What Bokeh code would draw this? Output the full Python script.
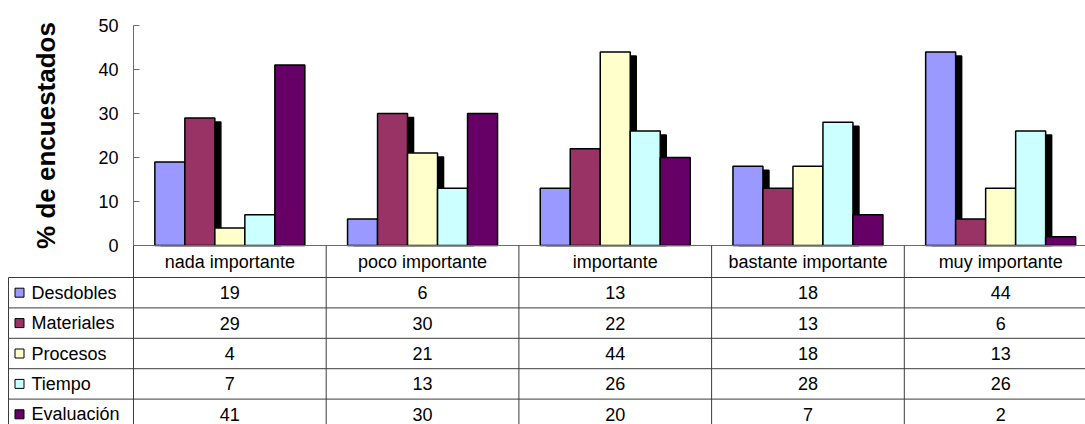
from bokeh.plotting import figure
from bokeh.models import Range1d, FixedTicker, LinearAxis
from bokeh.embed import file_html
from bokeh.resources import INLINE
from bokeh.core.properties import value

# ---- data -------------------------------------------------------------
categories = ["nada importante", "poco importante", "importante",
              "bastante importante", "muy importante"]
series_names = ["Desdobles", "Materiales", "Procesos", "Tiempo", "Evaluación"]
desdobles = [19, 6, 13, 18, 44]
materiales = [29, 30, 22, 13, 6]
procesos = [4, 21, 44, 18, 13]
tiempo = [7, 13, 26, 28, 26]
evaluacion = [41, 30, 20, 7, 2]
y_ticks = [0, 10, 20, 30, 40, 50]

series_values = [desdobles, materiales, procesos, tiempo, evaluacion]
colors = ["#9999FF", "#993366", "#FFFFCC", "#CCFFFF", "#660066"]
has_shadow = [True, True, True, True, False]

# ---- layout (pixels) -------------------------------------------------
W, H = 1085, 424
LEFT, TOP, BASE = 133, 25, 245          # value axis position, top of 50, baseline
GROUP_PX = 192.7                        # width of one category column
BAR_PX = 30
SHADOW_DX, SHADOW_DY = 6, 4
HEAD_PX, ROW_PX = 32, 30.4              # data-table header / row heights
FONT = value("Liberation Sans")
LINE = "#3c3c3c"
AXIS = "#6a6a6a"

y_max = 50
px_per_y = (BASE - TOP) / y_max
bw = BAR_PX / GROUP_PX


def px_x(px):
    """screen x (pixels) -> category units"""
    return (px - LEFT) / GROUP_PX


def px_y(py):
    """screen y (pixels) -> value units"""
    return (BASE - py) / px_per_y


# One canvas: the chart sits above y=0, the data table below it.
p = figure(width=W, height=H,
           x_range=Range1d(px_x(0), px_x(W)),
           y_range=Range1d(px_y(H), px_y(0)),
           x_axis_location=None, y_axis_location=None,
           toolbar_location=None, output_backend="svg", min_border=0)
p.outline_line_color = None
p.xgrid.visible = False
p.ygrid.visible = False
p.background_fill_color = "white"

n = len(series_values)
n_cat = len(categories)
xs_all = []
for j, vals in enumerate(series_values):
    xs_all.append([i + 0.5 + (j - (n - 1) / 2) * bw for i in range(len(vals))])

# drop shadows first, so every bar sits on top of them
for j, vals in enumerate(series_values):
    if not has_shadow[j]:
        continue
    p.vbar(x=[x + SHADOW_DX / GROUP_PX for x in xs_all[j]],
           top=[v - SHADOW_DY / px_per_y for v in vals], bottom=0, width=bw,
           fill_color="black", line_color="black", line_width=1.5)

for j, vals in enumerate(series_values):
    p.vbar(x=xs_all[j], top=vals, bottom=0, width=bw,
           fill_color=colors[j], line_color="black", line_width=1.5)

# value axis
ax = LinearAxis(fixed_location=0, bounds=(0, y_max),
                ticker=FixedTicker(ticks=y_ticks))
ax.major_tick_in = 6
ax.major_tick_out = 0
ax.minor_tick_in = 0
ax.minor_tick_out = 0
ax.axis_line_color = AXIS
ax.major_tick_line_color = AXIS
ax.major_label_text_font = "Liberation Sans"
ax.major_label_text_font_size = "18px"
ax.major_label_text_color = "black"
ax.major_label_standoff = 15
ax.axis_label = "% de encuestados"
ax.axis_label_text_font = "Liberation Sans"
ax.axis_label_text_font_style = "bold"
ax.axis_label_text_font_size = "26px"
ax.axis_label_text_color = "black"
ax.axis_label_standoff = 34
p.add_layout(ax, "left")

# ---- data table -------------------------------------------------------
head_y = px_y(BASE + HEAD_PX)
row_y = [px_y(BASE + HEAD_PX + k * ROW_PX) for k in range(n + 1)]
bottom_y = px_y(H + 10)
border_x = px_x(8)

# category axis line along the top of the table
p.segment(x0=[0], y0=[0], x1=[n_cat], y1=[0], line_color=AXIS, line_width=1)
# column boundaries
p.segment(x0=list(range(n_cat + 1)), y0=[0] * (n_cat + 1),
          x1=list(range(n_cat + 1)), y1=[bottom_y] * (n_cat + 1),
          line_color=LINE, line_width=1)
# left border of the legend column
p.segment(x0=[border_x], y0=[head_y], x1=[border_x], y1=[bottom_y],
          line_color=LINE, line_width=1)
# row boundaries
p.segment(x0=[border_x] * len(row_y), y0=row_y,
          x1=[n_cat] * len(row_y), y1=row_y,
          line_color=LINE, line_width=1)

# category labels
p.text(x=[i + 0.5 for i in range(n_cat)], y=[(0 + head_y) / 2] * n_cat,
       text=categories, text_align="center", text_baseline="middle",
       text_font=FONT, text_font_size="18px", text_color="black")

# values and legend entries
for j, vals in enumerate(series_values):
    yc = (row_y[j] + row_y[j + 1]) / 2
    p.text(x=[i + 0.5 for i in range(n_cat)], y=[yc] * n_cat,
           text=[str(v) for v in vals], text_align="center",
           text_baseline="middle", text_font=FONT, text_font_size="18px",
           text_color="black")
    p.scatter(x=[px_x(19)], y=[yc], marker="square", size=9,
              fill_color=colors[j], line_color="black", line_width=1)
    p.text(x=[px_x(31)], y=[yc], text=[series_names[j]],
           text_align="left", text_baseline="middle", text_font=FONT,
           text_font_size="18px", text_color="black")

open("out.html", "w").write(file_html(p, INLINE))
